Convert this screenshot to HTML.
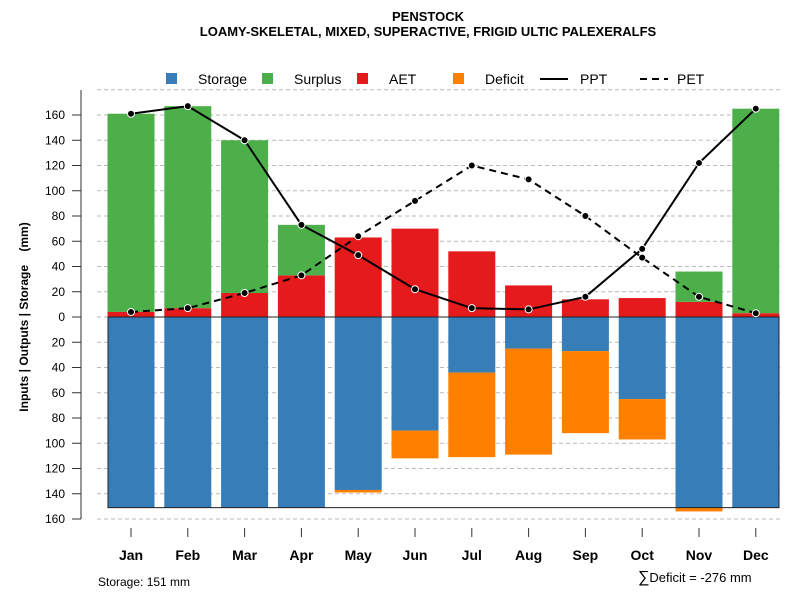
<!DOCTYPE html>
<html><head><meta charset="utf-8"><style>
body{margin:0;background:#fff}
svg{font-family:"Liberation Sans",Arial,sans-serif}
</style></head><body>
<svg id="c" width="800" height="600" xmlns="http://www.w3.org/2000/svg">
<text x="428" y="21" text-anchor="middle" font-size="13" font-weight="bold">PENSTOCK</text>
<text x="428" y="36" text-anchor="middle" font-size="13" font-weight="bold">LOAMY-SKELETAL, MIXED, SUPERACTIVE, FRIGID ULTIC PALEXERALFS</text>
<g id="legend" font-size="14">
<rect x="166" y="73" width="11" height="11" fill="#377eb8"/>
<text x="198" y="84">Storage</text>
<rect x="262" y="73" width="11" height="11" fill="#4daf4a"/>
<text x="294" y="84">Surplus</text>
<rect x="357" y="73" width="11" height="11" fill="#e41a1c"/>
<text x="389" y="84">AET</text>
<rect x="453" y="73" width="11" height="11" fill="#ff7f00"/>
<text x="485" y="84">Deficit</text>
<line x1="540" y1="79" x2="568" y2="79" stroke="#000" stroke-width="2"/>
<text x="580" y="84">PPT</text>
<line x1="640" y1="79" x2="668" y2="79" stroke="#000" stroke-width="2" stroke-dasharray="7,5"/>
<text x="677" y="84">PET</text>
</g>
<text transform="translate(28,317) rotate(-90)" text-anchor="middle" font-size="12" font-weight="bold">Inputs | Outputs | Storage &#160;&#160; (mm)</text>
<text x="98" y="586" font-size="12">Storage: 151 mm</text>
<text x="638" y="582" font-size="13"><tspan font-size="16">∑</tspan>Deficit = -276 mm</text>
</svg>
<script>
const months=["Jan","Feb","Mar","Apr","May","Jun","Jul","Aug","Sep","Oct","Nov","Dec"];
const aet=[4,7,19,33,63,70,52,25,14,15,12,3];
const surplus=[157,160,121,40,0,0,0,0,0,0,24,162];
const storage=[151,151,151,151,137,90,44,25,27,65,151,151];
const deficit=[0,0,0,0,2,22,67,84,65,32,3,0];
const ppt=[161,167,140,73,49,22,7,6,16,54,122,165];
const pet=[4,7,19,33,64,92,120,109,80,47,16,3];
const yTicks=[160,140,120,100,80,60,40,20,0,-20,-40,-60,-80,-100,-120,-140,-160];
const NS="http://www.w3.org/2000/svg",svg=document.getElementById('c');
const y=v=>317-v*1.2625, x=i=>131+i*56.8, bw=47;
function mk(t,a,p){const e=document.createElementNS(NS,t);for(const k in a)e.setAttribute(k,a[k]);(p||svg).appendChild(e);return e;}
[180].concat(yTicks).forEach(v=>{const g=mk('line',{x1:97,x2:780,y1:y(v),y2:y(v),stroke:'#bbb','stroke-dasharray':'4,3'});

});
const ya=mk('line',{x1:81,x2:81,y1:90,y2:y(-160),stroke:'#777','stroke-width':1.5});


yTicks.forEach(v=>{mk('line',{x1:72,x2:81,y1:y(v),y2:y(v),stroke:'#333'});
const t=mk('text',{x:65,y:y(v)+4,'text-anchor':'end','font-size':12});t.textContent=Math.abs(v);

});
months.forEach((m,i)=>{const l=x(i)-bw/2;
let r=mk('rect',{x:l,y:y(aet[i]),width:bw,height:aet[i]*1.2625,fill:'#e41a1c'});


r=mk('rect',{x:l,y:y(aet[i]+surplus[i]),width:bw,height:surplus[i]*1.2625,fill:'#4daf4a'});


r=mk('rect',{x:l,y:317,width:bw,height:storage[i]*1.2625,fill:'#377eb8'});


r=mk('rect',{x:l,y:y(-storage[i]),width:bw,height:deficit[i]*1.2625,fill:'#ff7f00'});


mk('line',{x1:x(i),x2:x(i),y1:528,y2:537,stroke:'#333'});
const t=mk('text',{x:x(i),y:560,'text-anchor':'middle','font-size':14,'font-weight':'bold'});t.textContent=m;

});
const box=mk('rect',{x:108,y:317,width:671,height:151*1.2625,fill:'none',stroke:'#222','stroke-width':1});


[[ppt,'ppt',''],[pet,'pet','7,5']].forEach(([d,n,da])=>{
const p=mk('polyline',{points:d.map((v,i)=>x(i)+','+y(v)).join(' '),fill:'none',stroke:'#000','stroke-width':2,'stroke-dasharray':da});


d.forEach((v,i)=>{const c=mk('circle',{cx:x(i),cy:y(v),r:3.5,fill:'#000',stroke:'#fff','stroke-width':1});

});});
</script>
</body></html>
